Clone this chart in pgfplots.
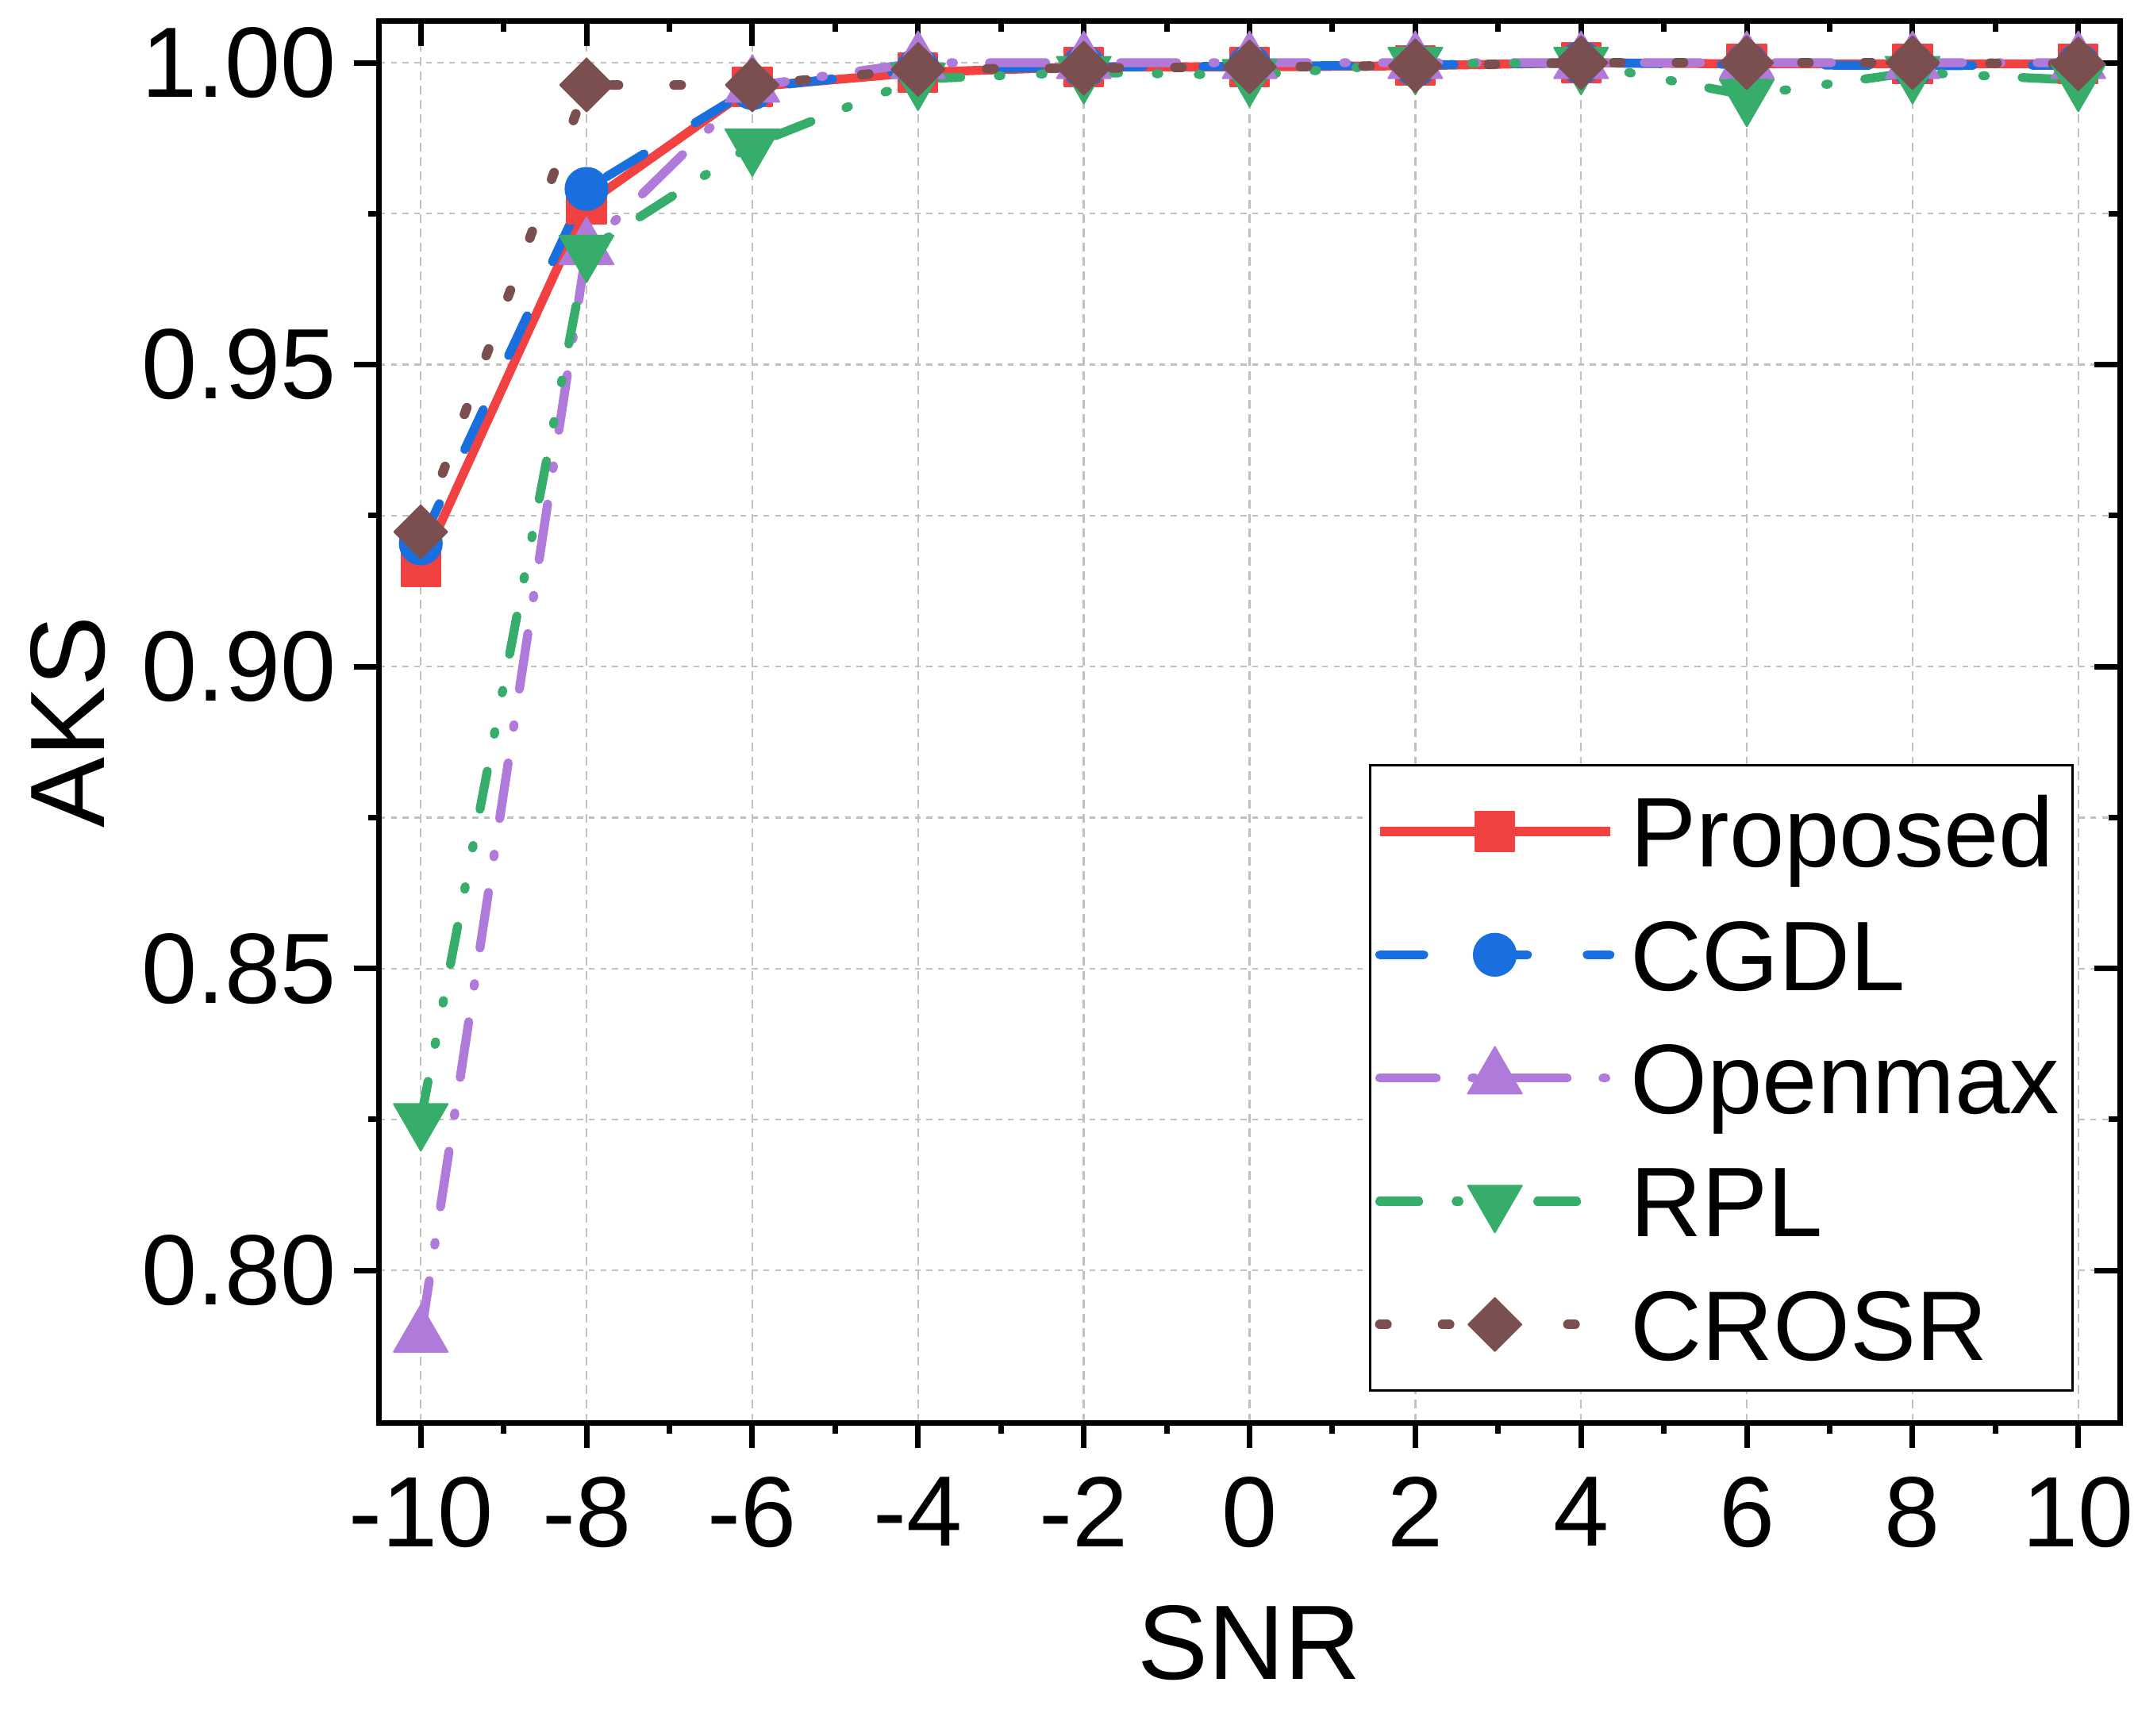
\documentclass[border=0pt]{standalone}
\usepackage{fontspec}
\setmainfont{Liberation Sans}
\usepackage{pgfplots}
\pgfplotsset{compat=1.18}
\usetikzlibrary{calc}
\definecolor{cRed}{RGB}{241,65,65}
\definecolor{cBlue}{RGB}{26,111,223}
\definecolor{cPurple}{RGB}{176,122,219}
\definecolor{cGreen}{RGB}{55,173,107}
\definecolor{cBrown}{RGB}{123,79,79}
\definecolor{cGrid}{RGB}{192,192,192}
\pgfplotsset{
  common/.style={
    scale only axis, width=328.95pt, height=264.98pt,
    xmin=-10.5, xmax=10.5, ymin=0.7748, ymax=1.0069,
    xtick={-10,-8,...,10}, ytick={0.80,0.85,0.90,0.95,1.00},
    minor x tick num=1, minor y tick num=1,
    major tick length=4.8pt, minor tick length=2.1pt,
    tick style={black, line width=1.05pt},
    axis line style={line width=1.05pt},
    /pgf/number format/assume math mode=true,
  }
}
\begin{document}
\begin{tikzpicture}
% background axis: grid and inner ticks on top/right
\begin{axis}[common,
  tick align=inside, xtick pos=right, ytick pos=right,
  xticklabels={}, yticklabels={},
  ticklabel style={inner sep=0pt, overlay},
  xmajorgrids, ymajorgrids, yminorgrids,
  x grid style={cGrid, line width=0.35pt, dash pattern=on 1.6pt off 1.1pt},
  y grid style={cGrid, line width=0.35pt, dash pattern=on 1.1pt off 1.1pt},
]
\end{axis}
% main axis
\begin{axis}[common, name=main,
  tick align=outside, xtick pos=left, ytick pos=left,
  xticklabels={-10,-8,-6,-4,-2,0,2,4,6,8,10},
  yticklabels={0.80,0.85,0.90,0.95,1.00},
  ticklabel style={font=\fontsize{18.9}{18.9}\selectfont, inner sep=0pt},
  yticklabel style={anchor=east, xshift=-3.2pt},
  xticklabel style={anchor=north, yshift=-5.25pt},
  xlabel={SNR}, ylabel={AKS},
  label style={font=\fontsize{20}{20}\selectfont, inner sep=0pt},
  xlabel style={at={(axis description cs:0.5,-0.12982)}, anchor=north},
  ylabel style={at={(axis description cs:-0.15686,0.5)}, anchor=south},
  legend style={at={(axis description cs:0.9736,0.0221)}, anchor=south east,
    font=\fontsize{18.7}{18.7}\selectfont, draw=black, line width=0.4pt, fill=white,
    inner xsep=0.95pt, inner ysep=3.0pt, row sep=4.3pt,
    nodes={inner sep=0pt, text height=16.2pt, text depth=2.8pt},
    /tikz/column 1/.style={column sep=3.0pt}},
  legend cell align=left,
  legend image code/.code={\draw[mark repeat=2,mark phase=2] plot coordinates {(0pt,0pt) (21.75pt,0pt) (43.5pt,0pt)};},
]
\addplot[color=cRed, line width=1.7pt, line join=round, mark=square*, mark size=3.7pt,
  mark options={solid, line width=0.3pt}] coordinates {
(-10,0.9165) (-8,0.9766) (-6,0.9960) (-4,0.9984) (-2,0.9993) (0,0.9993) (2,0.9995) (4,1.0000) (6,0.9998) (8,0.9998) (10,0.9998)};
\addlegendentry{Proposed\hspace*{1.55pt}}
\addplot[color=cBlue, line width=1.7pt, line cap=round, line join=round, dash pattern=on 8.3pt off 11.3pt,
  mark=*, mark size=4.0pt, mark options={solid, line width=0.3pt}] coordinates {
(-10,0.9204) (-8,0.9791) (-6,0.9958) (-4,0.9989) (-2,0.9993) (0,0.9994) (2,0.9996) (4,1.0000) (6,0.9997) (8,0.9995) (10,0.9996)};
\addlegendentry{CGDL\hspace*{1.55pt}}
\addplot[color=cPurple, line width=1.7pt, line cap=round, line join=round, dash pattern=on 10.65pt off 6.8pt on 0.5pt off 6.8pt,
  mark=triangle*, mark size=5.9pt, mark options={solid, line width=0.3pt}] coordinates {
(-10,0.7891) (-8,0.9692) (-6,0.9961) (-4,1.0000) (-2,1.0000) (0,1.0000) (2,1.0000) (4,1.0000) (6,1.0000) (8,1.0000) (10,1.0000)};
\addlegendentry{Openmax\hspace*{1.55pt}}
\addplot[color=cGreen, line width=1.7pt, line cap=round, line join=round, dash pattern=on 7.35pt off 7.1pt on 0.5pt off 7.45pt on 0.5pt off 6.95pt,
  mark=triangle*, mark size=5.9pt, mark options={solid, line width=0.3pt, rotate=180}] coordinates {
(-10,0.8250) (-8,0.9688) (-6,0.9864) (-4,0.9973) (-2,0.9984) (0,0.9979) (2,0.9999) (4,0.9999) (6,0.9946) (8,0.9984) (10,0.9971)};
\addlegendentry{RPL\hspace*{1.55pt}}
\addplot[color=cBrown, line width=1.8pt, line cap=round, line join=round, dash pattern=on 1.35pt off 10.5pt,
  mark=square*, mark size=3.55pt, mark options={solid, line width=0.3pt, rotate=45}] coordinates {
(-10,0.9223) (-8,0.9963) (-6,0.9963) (-4,0.9989) (-2,0.9991) (0,0.9993) (2,0.9995) (4,1.0000) (6,1.0000) (8,1.0000) (10,0.9998)};
\addlegendentry{CROSR\hspace*{1.55pt}}
\end{axis}
\path ($(main.south west)+(-71.7pt,-59.1pt)$) rectangle ($(main.north east)+(3.45pt,3.98pt)$);
\end{tikzpicture}
\end{document}
